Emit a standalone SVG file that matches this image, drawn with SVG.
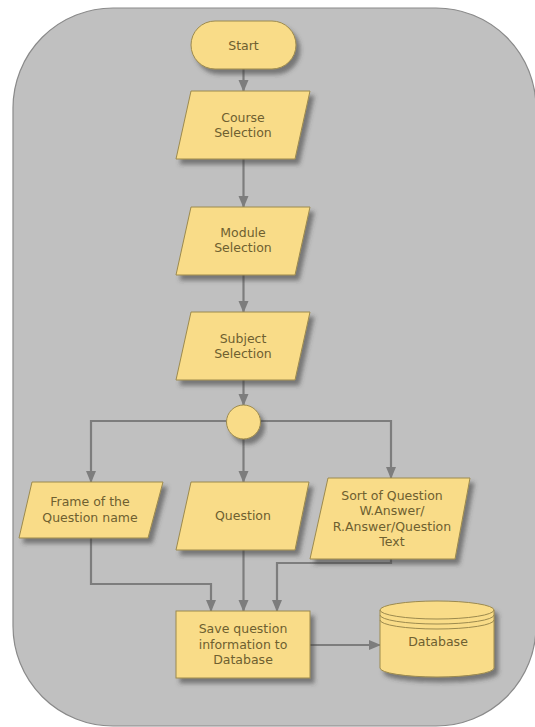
<svg xmlns="http://www.w3.org/2000/svg" width="535" height="727" viewBox="0 0 535 727">
<style>
.bg{fill:#c0c0c0;stroke:#8a8a8a;stroke-width:1.2}
.shape{fill:#f9dc88;stroke:#9c8a4e;stroke-width:1;filter:url(#sh)}
.lbl{font-family:"DejaVu Sans",Verdana,sans-serif;font-size:12.5px;fill:#6e6030;text-anchor:middle}
.conn{fill:none;stroke:#7d7d7d;stroke-width:2.2;marker-end:url(#ah)}
</style>
<defs>
<filter id="sh" x="-20%" y="-20%" width="140%" height="150%">
<feDropShadow dx="4" dy="5" stdDeviation="2.2" flood-color="#3a3a3a" flood-opacity="0.55"/>
</filter>
<marker id="ah" markerUnits="userSpaceOnUse" markerWidth="12" markerHeight="12" viewBox="0 0 12 10" refX="11" refY="5" orient="auto">
<path d="M0,0 L12,5 L0,10 Z" fill="#7d7d7d"/>
</marker>
</defs>
<rect class="bg" x="13" y="8" width="523" height="718" rx="100" ry="100"/>
<g id="connectors">
<path class="conn" d="M243.5 69 V91"/>
<path class="conn" d="M243.5 159 V207"/>
<path class="conn" d="M243.5 275 V312"/>
<path class="conn" d="M243.5 380 V405"/>
<path class="conn" d="M226 421 H91 V482"/>
<path class="conn" d="M243.5 439 V482"/>
<path class="conn" d="M261 421 H391 V478"/>
<path class="conn" d="M91 538 V584 H211 V611"/>
<path class="conn" d="M243.5 550 V611"/>
<path class="conn" d="M391 559 V563 H277 V611"/>
<path class="conn" d="M310 645 H380"/>
</g>
<g id="start">
<rect class="shape" x="191" y="21" width="105" height="48" rx="24" ry="24"/>
<text class="lbl" x="243.5" y="50">Start</text>
</g>
<g id="course">
<polygon class="shape" points="191,91 310,91 295,159 176,159"/>
<text class="lbl" x="243" y="122">Course</text>
<text class="lbl" x="243" y="137">Selection</text>
</g>
<g id="module">
<polygon class="shape" points="191,207 310,207 295,275 176,275"/>
<text class="lbl" x="243" y="237">Module</text>
<text class="lbl" x="243" y="252">Selection</text>
</g>
<g id="subject">
<polygon class="shape" points="191,312 310,312 295,380 176,380"/>
<text class="lbl" x="243" y="343">Subject</text>
<text class="lbl" x="243" y="358">Selection</text>
</g>
<g id="junction">
<circle class="shape" cx="243.5" cy="422" r="17"/>
</g>
<g id="frame">
<polygon class="shape" points="32,482 163,482 148,538 19,538"/>
<text class="lbl" x="90" y="506">Frame of the</text>
<text class="lbl" x="90" y="522">Question name</text>
</g>
<g id="question">
<polygon class="shape" points="191,482 309,482 295,550 176,550"/>
<text class="lbl" x="243" y="520">Question</text>
</g>
<g id="sort">
<polygon class="shape" points="328,478 470,478 455,559 310,559"/>
<text class="lbl" x="392" y="500">Sort of Question</text>
<text class="lbl" x="392" y="515">W.Answer/</text>
<text class="lbl" x="392" y="531">R.Answer/Question</text>
<text class="lbl" x="392" y="546">Text</text>
</g>
<g id="save">
<rect class="shape" x="176" y="611" width="134" height="67"/>
<text class="lbl" x="243" y="633">Save question</text>
<text class="lbl" x="243" y="649">information to</text>
<text class="lbl" x="243" y="664">Database</text>
</g>
<g id="database">
<path class="shape" d="M380 610 A57 9 0 0 1 494 610 V668 A57 9 0 0 1 380 668 Z"/>
<path d="M380 610 A57 9 0 0 0 494 610 M380 615 A57 9 0 0 0 494 615 M380 620 A57 9 0 0 0 494 620" fill="none" stroke="#9c8a4e" stroke-width="1"/>
<text class="lbl" x="438" y="646">Database</text>
</g>
</svg>
